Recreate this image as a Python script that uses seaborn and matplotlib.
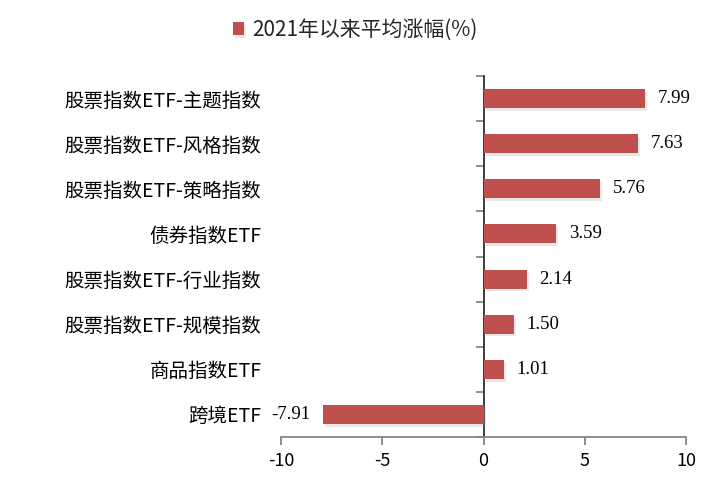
import matplotlib
matplotlib.use("Agg")
import matplotlib.pyplot as plt
import matplotlib.patheffects as pe
import seaborn as sns
import pandas as pd
import numpy as np

categories = ["股票指数ETF-主题指数", "股票指数ETF-风格指数", "股票指数ETF-策略指数",
              "债券指数ETF", "股票指数ETF-行业指数", "股票指数ETF-规模指数",
              "商品指数ETF", "跨境ETF"]
values = [7.99, 7.63, 5.76, 3.59, 2.14, 1.50, 1.01, -7.91]
series_name = "2021年以来平均涨幅(%)"
x_ticks = [-10, -5, 0, 5, 10]

sns.set_theme(style="white")
plt.rcParams["font.family"] = ["Noto Sans CJK SC", "DejaVu Sans"]

df = pd.DataFrame({"cat": categories, "val": values})

fig = plt.figure(figsize=(7.14, 4.97), dpi=100)
ax = fig.add_axes([0.3936, 0.1207, 0.5672, 0.7263])

bar_color = "#C0504D"
sns.barplot(data=df, y="cat", x="val", orient="h", color=bar_color,
            width=0.42, ax=ax, label=series_name, saturation=1, linewidth=0)

for p in ax.patches:
    p.set_path_effects([pe.SimplePatchShadow(offset=(1.5, -2), shadow_rgbFace="#999999", alpha=0.22),
                        pe.Normal()])

ax.bar_label(ax.containers[0], labels=[f"{v:.2f}" for v in values], padding=9,
             fontsize=13.5, family="Liberation Serif", color="#000000")

ax.set_xlim(-10, 10)
ax.set_xticks(x_ticks)
ax.set_xticklabels([str(t) for t in x_ticks], fontsize=13, color="#000000")
ax.set_xlabel("")
ax.set_ylabel("")
ax.set_ylim(len(categories) - 0.5, -0.5)

axis_color = "#868686"
for s in ["top", "right", "left"]:
    ax.spines[s].set_visible(False)
ax.spines["bottom"].set_color(axis_color)
ax.spines["bottom"].set_linewidth(1.3)
ax.tick_params(axis="x", which="major", direction="out", length=6, width=1.3,
               color=axis_color, bottom=True, pad=5)
ax.tick_params(axis="y", which="both", left=False, labelsize=14, pad=8, labelcolor="#000000")

sec = ax.secondary_yaxis(0.5)
sec.set_yticks([])
sec.set_yticks(np.arange(-0.5, len(categories) - 0.4, 1.0), minor=True)
sec.tick_params(which="minor", direction="in", length=6, width=1.3, color=axis_color)
sec.spines["left"].set_color(axis_color)
sec.spines["left"].set_linewidth(1.3)

leg = ax.legend(loc="center", bbox_to_anchor=(0.4975, 1 - 30 / 497), bbox_transform=fig.transFigure,
                frameon=False, fontsize=15, handlelength=0.55, handleheight=0.55,
                handletextpad=0.4)

fig.savefig("out.png", dpi=100)
